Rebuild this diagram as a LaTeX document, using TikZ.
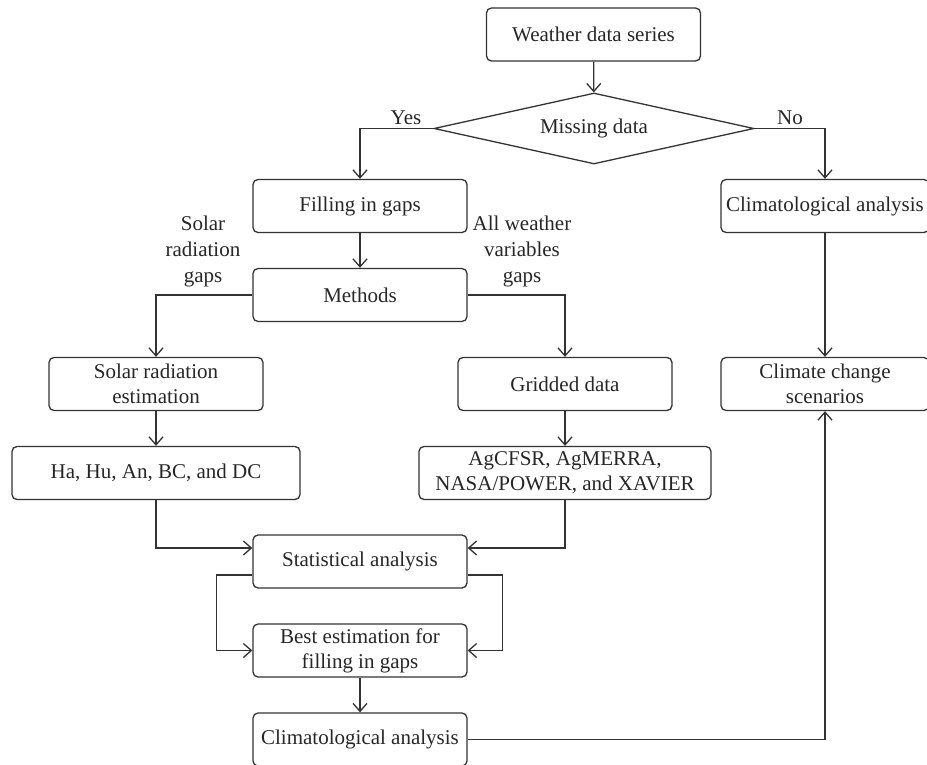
\documentclass[tikz,border=0pt]{standalone}
\usepackage{fontspec}
\setmainfont{Liberation Serif}
\usetikzlibrary{shapes.geometric,arrows.meta}

\begin{document}
\begin{tikzpicture}[x=0.5pt, y=-0.5pt,
    box/.style={draw=black!80, line width=0.65pt, rounded corners=2.5pt,
        minimum width=107pt, minimum height=26.5pt, inner sep=1pt,
        align=center, text=black!85, font=\fontsize{10.5}{12.5}\selectfont},
    decision/.style={diamond, aspect=4.5, draw=black!80, line width=0.65pt,
        minimum width=160pt, minimum height=35.5pt, inner sep=0pt,
        text=black!85, font=\fontsize{10.5}{12.5}\selectfont},
    lbl/.style={align=center, inner sep=0pt, text=black!85,
        font=\fontsize{10.5}{13}\selectfont},
    arr/.style={draw=black!80, line width=0.65pt,
        -{Straight Barb[length=4pt,width=7pt]}}]
    \useasboundingbox (0,0) rectangle (927,765);

    % Boxes
    \node[box] (ws) at (593.5,34.5) {Weather data series};
    \node[decision] (md) at (594,128.5) {Missing data};
    \node[box] (fill) at (360,206) {Filling in gaps};
    \node[box] (meth) at (360,295) {Methods};
    \node[box] (sre) at (156,384) {Solar radiation\\estimation};
    \node[box, minimum width=144pt] (ha) at (156,473) {Ha, Hu, An, BC, and DC};
    \node[box] (grid) at (565,384) {Gridded data};
    \node[box, minimum width=146pt] (ag) at (565,473) {AgCFSR, AgMERRA,\\NASA/POWER, and XAVIER};
    \node[box] (stat) at (360,561.5) {Statistical analysis};
    \node[box] (best) at (360,650.5) {Best estimation for\\filling in gaps};
    \node[box] (clb) at (360,739.5) {Climatological analysis};
    \node[box, minimum width=104pt] (clr) at (825,206) {Climatological analysis};
    \node[box, minimum width=104pt] (ccs) at (825,384) {Climate change\\scenarios};

    % Labels
    \node[lbl] (yes) at (406,118) {Yes};
    \node[lbl] (no) at (790,118) {No};
    \node[lbl] (solar) at (203,251) {Solar\\radiation\\gaps};
    \node[lbl] (allw) at (522,251) {All weather\\variables\\gaps};

    % Arrows
    \draw[arr] (ws) -- (md);
    \draw[arr] (md.west) -| (fill.north);
    \draw[arr] (md.east) -| (clr.north);
    \draw[arr] (fill) -- (meth);
    \draw[arr] (meth.west) -| (sre.north);
    \draw[arr] (meth.east) -| (grid.north);
    \draw[arr] (sre) -- (ha);
    \draw[arr] (grid) -- (ag);
    \draw[arr] (ha.south) |- ([yshift=6.75pt]stat.west);
    \draw[arr] (ag.south) |- ([yshift=6.75pt]stat.east);
    \draw[arr] ([yshift=-6.75pt]stat.west) -- ++(-36,0) |- (best.west);
    \draw[arr] ([yshift=-6.75pt]stat.east) -- ++(35,0) |- (best.east);
    \draw[arr] (best) -- (clb);
    \draw[arr] (clb.east) -| (ccs.south);
    \draw[arr] (clr) -- (ccs);
\end{tikzpicture}
\end{document}
